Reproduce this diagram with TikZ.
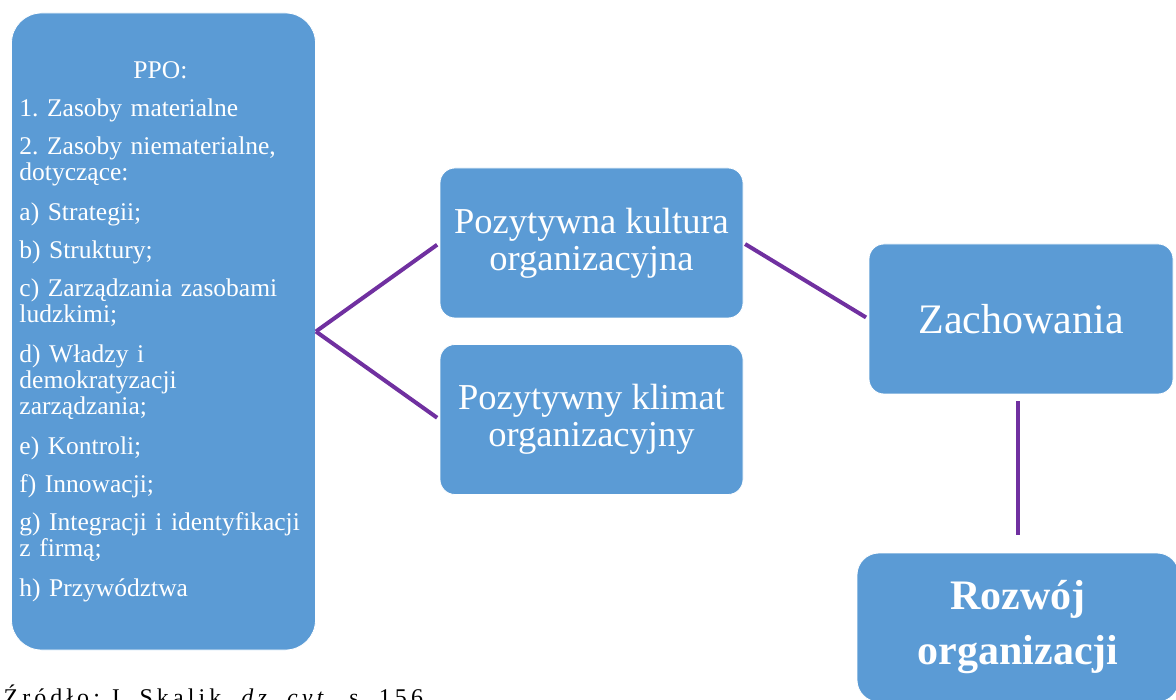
\documentclass[tikz,border=0pt]{standalone}
\usepackage{fontspec}
\setmainfont{Liberation Serif}
\newfontfamily\sourcefont{Liberation Serif}[LetterSpace=17]
\definecolor{boxblue}{HTML}{5B9BD5}
\definecolor{linkpurple}{HTML}{7030A0}
\frenchspacing
\begin{document}
\begin{tikzpicture}[x=1pt,y=-1pt,
        box/.style={draw=white,line width=0.8pt,fill=boxblue,text=white,rounded corners=15pt,
            inner sep=0pt,minimum width=303pt,minimum height=150pt,align=center},
        link/.style={draw=linkpurple,line width=4pt}]
            \useasboundingbox (0,0) rectangle (1176,700);
            % boxes
            \node[box,rounded corners=30pt,minimum width=304pt,minimum height=637pt,
                text width=288pt,align=left,font=\fontsize{25.5}{26}\selectfont] (ppo) at (163.5,331.5)
                {\hspace*{114pt}PPO:\\[12pt]
                1. Zasoby materialne\\[12pt]
                2. Zasoby niematerialne,\\ dotyczące:\\[14pt]
                a) Strategii;\\[12pt]
                b) Struktury;\\[12pt]
                c) Zarządzania zasobami\\ ludzkimi;\\[14pt]
                d) Władzy i\\ demokratyzacji\\ zarządzania;\\[14pt]
                e) Kontroli;\\[12pt]
                f) Innowacji;\\[12pt]
                g) Integracji i identyfikacji\\ z firmą;\\[14pt]
                h) Przywództwa};
            \node[box,font=\fontsize{36.5}{37}\selectfont] (kultura) at (591.5,243) {Pozytywna kultura\\organizacyjna};
            \node[box,font=\fontsize{36.5}{37}\selectfont] (klimat) at (591.5,419.5) {Pozytywny klimat\\organizacyjny};
            \node[box,minimum width=304pt,font=\fontsize{42}{44}\selectfont] (zach) at (1021,319) {Zachowania};
            \node[box,rounded corners=22pt,minimum width=322pt,minimum height=149pt,
                font=\fontsize{42}{55}\selectfont\bfseries] (rozwoj) at (1018,627.5) {Rozwój\\organizacji};
            % connectors
            \draw[link,shorten >=3pt] (ppo.east) -- (kultura.west);
            \draw[link,shorten >=3pt] (ppo.east) -- (klimat.west);
            \draw[link,shorten <=2pt,shorten >=3pt] (kultura.east) -- (zach.west);
            \draw[link,shorten <=7pt,shorten >=18pt] (rozwoj.north |- zach.south) -- (rozwoj.north);
            % source
            \node[anchor=base west,font=\sourcefont\fontsize{24}{26}\selectfont] (zrodlo) at (0,705)
                {Źródło: J. Skalik, \textit{dz. cyt.}, s. 156.};
        \end{tikzpicture}
\end{document}
